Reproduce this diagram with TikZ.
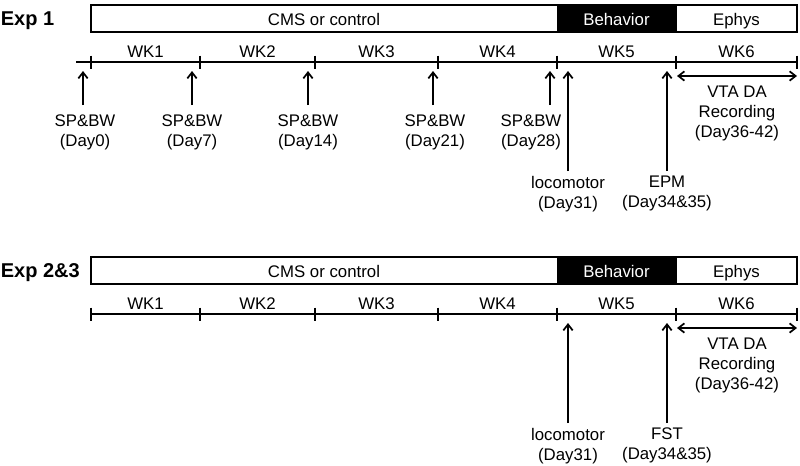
\documentclass[tikz,border=0pt]{standalone}
\usepackage{fontspec}
\setmainfont{Liberation Sans}
\usetikzlibrary{arrows.meta}
\tikzset{
  lbl/.style={font=\fontsize{12.6}{15}\selectfont,inner xsep=0pt,inner ysep=3pt},
  evt/.style={lbl,align=center,anchor=north},
  spbw/.style={evt,inner ysep=7pt},
  expname/.style={font=\fontsize{15}{18}\selectfont\bfseries,anchor=base west,inner sep=0pt},
  arr/.style={-{Straight Barb[length=4.5pt,width=7pt]}},
  dbl/.style={{Straight Barb[length=4.5pt,width=7pt]}-{Straight Barb[length=4.5pt,width=7pt]}}
}
\begin{document}
\begin{tikzpicture}[x=0.75pt,y=-0.75pt,line width=1.3pt]
\useasboundingbox (0,0) rectangle (800,465);
\node[expname] (exp1) at (0,25) {Exp 1};
\fill (557,5) rectangle (676,32);
\draw (91,5) rectangle (797,32) (676,5) -- (676,32);
\node[lbl,anchor=base] (cms1) at (324,25) {CMS or control};
\node[lbl,anchor=base,text=white] (beh1) at (616.5,25) {Behavior};
\node[lbl,anchor=base] (eph1) at (736.5,25) {Ephys};
\draw (76,62) -- (797,62);
\foreach \x in {91,200,315,438,557,676,797} \draw (\x,55.5) -- (\x,68.5);
\foreach \x/\w in {145.5/1,257.5/2,376.5/3,497.5/4,616.5/5,736.5/6}
  \node[lbl,anchor=base] (wk\w a) at (\x,57) {WK\w};
\foreach \x/\lx/\d in {83/85/0,192/192/7,308/308/14,433/435/21,550/531/28}{
  \coordinate (t\d) at (\x,71);
  \node[spbw] (sp\d) at (\lx,105) {SP\&BW\\(Day\d)};
  \draw[arr] (sp\d.north -| t\d) -- (t\d);
}
\coordinate (tloc1) at (568,71);
\node[evt] (loc1) at (568,171) {locomotor\\(Day31)};
\draw[arr] (loc1) -- (tloc1);
\coordinate (tepm) at (667,71);
\node[evt] (epm) at (667,171) {EPM\\(Day34\&35)};
\draw[arr] (epm) -- (tepm);
\coordinate (rec0a) at (677,76);
\coordinate (rec1a) at (797,76);
\draw[dbl] (rec0a) -- (rec1a);
\node[evt] (vta1) at (737,81) {VTA DA\\Recording\\(Day36-42)};
\begin{scope}[shift={(0,252)}]
\node[expname] (exp2) at (0,25) {Exp 2\&3};
\fill (557,5) rectangle (676,32);
\draw (91,5) rectangle (797,32) (676,5) -- (676,32);
\node[lbl,anchor=base] (cms2) at (324,25) {CMS or control};
\node[lbl,anchor=base,text=white] (beh2) at (616.5,25) {Behavior};
\node[lbl,anchor=base] (eph2) at (736.5,25) {Ephys};
\draw (91,62) -- (797,62);
\foreach \x in {91,200,315,438,557,676,797} \draw (\x,55.5) -- (\x,68.5);
\foreach \x/\w in {145.5/1,257.5/2,376.5/3,497.5/4,616.5/5,736.5/6}
  \node[lbl,anchor=base] (wk\w b) at (\x,57) {WK\w};
\coordinate (tloc2) at (568,71);
\node[evt] (loc2) at (568,171) {locomotor\\(Day31)};
\draw[arr] (loc2) -- (tloc2);
\coordinate (tfst) at (667,71);
\node[evt] (fst) at (667,171) {FST\\(Day34\&35)};
\draw[arr] (fst) -- (tfst);
\coordinate (rec0b) at (677,76);
\coordinate (rec1b) at (797,76);
\draw[dbl] (rec0b) -- (rec1b);
\node[evt] (vta2) at (737,81) {VTA DA\\Recording\\(Day36-42)};
\end{scope}
\end{tikzpicture}
\end{document}
